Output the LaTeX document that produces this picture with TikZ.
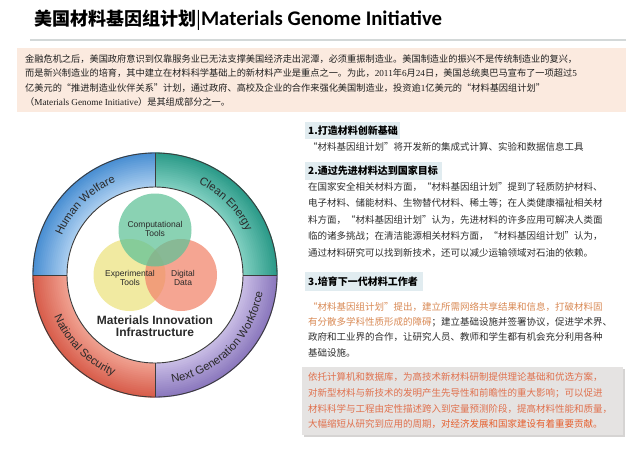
\documentclass[tikz,border=0pt]{standalone}
\usepackage{fontspec}
\setmainfont{Liberation Sans}
\setsansfont{Liberation Sans}
\newfontfamily\cjk{Noto Sans CJK SC}
\newfontfamily\carl{Carlito}
\newfontfamily\lser{Liberation Serif}
\usetikzlibrary{decorations.text}
\XeTeXlinebreaklocale "zh"
\XeTeXlinebreakskip=0pt plus 2pt
\definecolor{bodytext}{HTML}{2E2E2E}
\definecolor{toptext}{HTML}{1E1E1E}
\definecolor{topbg}{HTML}{FBEADF}
\definecolor{headbg}{HTML}{E1ECF0}
\definecolor{rulegray}{HTML}{D3D8D8}
\definecolor{boxgray}{HTML}{E5E3E2}
\definecolor{boxshadow}{HTML}{D6D4D3}
\definecolor{orangetext}{HTML}{D98A55}
\definecolor{salmontext}{HTML}{E0714E}
\definecolor{salmondeep}{HTML}{E5602F}
\definecolor{ringline}{HTML}{3C3C3C}
\definecolor{ringtext}{HTML}{2A2A2A}
\definecolor{blueL}{HTML}{A9CDEF}
\definecolor{blueD}{HTML}{4A8FD3}
\definecolor{tealL}{HTML}{7FCFC0}
\definecolor{tealD}{HTML}{2C9B89}
\definecolor{redL}{HTML}{F0A090}
\definecolor{redD}{HTML}{D85E4C}
\definecolor{purL}{HTML}{C8BCE5}
\definecolor{purD}{HTML}{8C79BE}
\definecolor{cgreen}{HTML}{5EC197}
\definecolor{cyellow}{HTML}{EEE58A}
\definecolor{cred}{HTML}{F2876E}
\newcommand\jl[2]{\hbox to #1{#2}}
\newcommand\bodyf{\cjk\fontsize{9.5}{11}\selectfont}
\newcommand\topf{\cjk\fontsize{9.2}{11}\selectfont}
\newcommand\headf{\cjk\bfseries\fontsize{10}{12}\selectfont}
\newcommand\ringfont{\sffamily\fontsize{11.3}{11.3}\selectfont\color{ringtext}}
\newcommand\quadfill[3]{%
  \foreach \i in {0,...,16}{%
    \pgfmathsetmacro\pp{100*\i/16}%
    \pgfmathsetmacro\ra{88+2*\i}%
    \pgfmathsetmacro\rb{90.6+2*\i}%
    \fill[#3!\pp!#2] ({#1}:\ra) arc[start angle={#1}, end angle={#1+90}, radius=\ra] -- ({#1+90}:\rb) arc[start angle={#1+90}, end angle={#1}, radius=\rb] -- cycle;
  }}
\begin{document}
\begin{tikzpicture}[x=1pt,y=-1pt,
  every node/.style={inner sep=0pt},
  body/.style={anchor=west, font=\bodyf, text=bodytext},
  topline/.style={anchor=west, font=\topf, text=toptext},
  head/.style={anchor=west, font=\headf, text=black},
  headbox/.style={fill=headbg}]
\useasboundingbox (0,0) rectangle (640,450);
\fill[white] (0,0) rectangle (640,450);

% title
\node[anchor=west] (title) at (34,20) {\fontsize{18}{20}\selectfont\bfseries\cjk 美国材料基因组计划{\fontsize{18}{20}\selectfont\mdseries|}{\carl\bfseries\fontsize{20.8}{22}\selectfont Materials Genome Initiative}};
\draw[rulegray, line width=1.5pt] (30,40) -- (626,40);

% top box
\fill[topbg] (17,48) rectangle (626,112);
\node[topline] (p1) at (25,59) {\jl{587pt}{金融危机之后，美国政府意识到仅靠服务业已无法支撑美国经济走出泥潭，必须重振制造业。美国制造业的振兴不是传统制造业的复兴，}};
\node[topline] (p2) at (25,73.5) {\jl{587pt}{而是新兴制造业的培育，其中建立在材料科学基础上的新材料产业是重点之一。为此，{\lser 2011}年{\lser 6}月{\lser 24}日，美国总统奥巴马宣布了一项超过{\lser 5}}};
\node[topline] (p3) at (25,88) {\jl{552pt}{亿美元的“推进制造业伙伴关系”计划，通过政府、高校及企业的合作来强化美国制造业，投资逾{\lser 1}亿美元的“材料基因组计划”}};
\node[topline] (p4) at (25,102) {（{\lser Materials Genome Initiative}）是其组成部分之一。};

% circle diagram
\begin{scope}[shift={(155,275)}, x=1pt, y=1pt]
  \quadfill{90}{blueL}{blueD}
  \quadfill{0}{tealL}{tealD}
  \quadfill{180}{redL}{redD}
  \quadfill{270}{purL}{purD}
  \fill[white] (0,0) circle (88);
  \draw[ringline, line width=0.9pt] (0,0) circle (122);
  \draw[ringline, line width=0.9pt] (0,0) circle (88);
  \draw[ringline, line width=0.9pt] (0,88) -- (0,122) (0,-88) -- (0,-122) (88,0) -- (122,0) (-88,0) -- (-122,0);
  \path[decorate, decoration={text along path, text align=center, text={|\ringfont|Human Welfare}}]
    (180:101) arc[start angle=180, end angle=90, radius=101];
  \path[decorate, decoration={text along path, text align=center, text={|\ringfont|Clean Energy}}]
    (90:101) arc[start angle=90, end angle=0, radius=101];
  \path[decorate, decoration={text along path, text align=center, text={|\ringfont|National Security}}]
    (180:109) arc[start angle=180, end angle=270, radius=109];
  \path[decorate, decoration={text along path, text align=center, text={|\ringfont|Next Generation Workforce}}]
    (270:109) arc[start angle=270, end angle=360, radius=109];
  \fill[cyellow, fill opacity=0.8] (-25.5,0) circle (36);
  \fill[cred, fill opacity=0.75] (26,0) circle (36);
  \fill[cgreen, fill opacity=0.72] (0,45) circle (36.5);
  \node[align=center, font=\sffamily\fontsize{8.5}{9.5}\selectfont, text=ringtext] (ct) at (0,46) {Computational\\Tools};
  \node[align=center, font=\sffamily\fontsize{8.5}{9.5}\selectfont, text=ringtext] (et) at (-25,-3) {Experimental\\Tools};
  \node[align=center, font=\sffamily\fontsize{8.5}{9.5}\selectfont, text=ringtext] (dd) at (28,-3) {Digital\\Data};
  \node[align=center, font=\sffamily\bfseries\fontsize{12}{12}\selectfont, text=ringtext] (mii) at (0,-51) {Materials Innovation\\Infrastructure};
\end{scope}

% section 1
\fill[headbg] (305,122) rectangle (400,139);
\node[head] (h1) at (308,130.5) {1.打造材料创新基础};
\node[body] (s1) at (308,147) {\jl{287pt}{“材料基因组计划”将开发新的集成式计算、实验和数据信息工具}};

% section 2
\fill[headbg] (305,162) rectangle (442,180);
\node[head] (h2) at (308,171) {2.通过先进材料达到国家目标};
\node[body] (s2a) at (308,187) {\jl{300pt}{在国家安全相关材料方面，“材料基因组计划”提到了轻质防护材料、}};
\node[body] (s2b) at (308,203.5) {\jl{308pt}{电子材料、储能材料、生物替代材料、稀土等；在人类健康福祉相关材}};
\node[body] (s2c) at (308,220) {\jl{305pt}{料方面，“材料基因组计划”认为，先进材料的许多应用可解决人类面}};
\node[body] (s2d) at (308,236.5) {\jl{305pt}{临的诸多挑战；在清洁能源相关材料方面，“材料基因组计划”认为，}};
\node[body] (s2e) at (308,253) {\jl{289pt}{通过材料研究可以找到新技术，还可以减少运输领域对石油的依赖。}};

% section 3
\fill[headbg] (305,272) rectangle (423,291);
\node[head] (h3) at (308,281.5) {3.培育下一代材料工作者};
\node[body, text=orangetext] (s3a) at (308,307) {\jl{307pt}{“材料基因组计划”提出，建立所需网络共享结果和信息，打破材料固}};
\node[body] (s3b) at (308,322) {\jl{307pt}{\color{orangetext}有分散多学科性质形成的障碍\color{bodytext}；建立基础设施并签署协议，促进学术界、}};
\node[body] (s3c) at (308,337) {\jl{305pt}{政府和工业界的合作，让研究人员、教师和学生都有机会充分利用各种}};
\node[body] (s3d) at (308,352.5) {基础设施。};

% bottom box
\fill[boxshadow] (304,369) rectangle (625,437);
\fill[boxgray] (302,367) rectangle (623,435);
\node[body, text=salmontext] (b1) at (308,377) {\jl{302pt}{依托计算机和数据库，为高技术新材料研制提供理论基础和优选方案，}};
\node[body, text=salmontext] (b2) at (308,393) {\jl{305pt}{对新型材料与新技术的发明产生先导性和前瞻性的重大影响；可以促进}};
\node[body, text=salmontext] (b3) at (308,409) {\jl{307pt}{材料科学与工程由定性描述跨入到定量预测阶段，提高材料性能和质量，}};
\node[body, text=salmontext] (b4) at (308,424) {\jl{297pt}{大幅缩短从研究到应用的周期\color{salmondeep}，对经济发展和国家建设有着重要贡献。}};
\end{tikzpicture}
\end{document}
